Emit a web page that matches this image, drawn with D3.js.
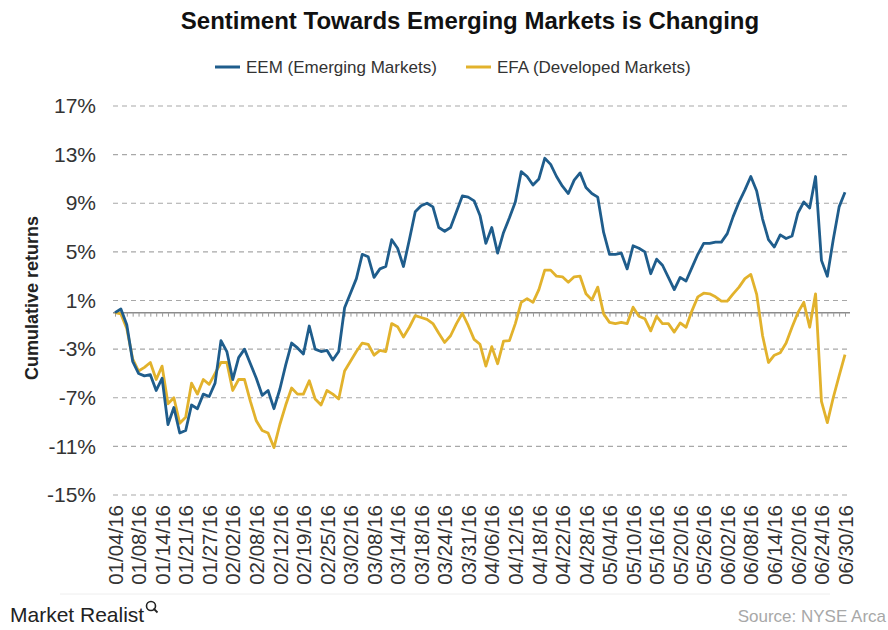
<!DOCTYPE html>
<html>
<head>
<meta charset="utf-8">
<script src="https://cdn.jsdelivr.net/npm/d3@7"></script>
<style>
  body { margin: 0; background: #fff; }
  svg { font-family: "Liberation Sans", Arial, sans-serif; }
</style>
</head>
<body>
<svg id="chart" width="888" height="630"></svg>
<script>
// trading days, 01/04/16 .. 06/30/16
var dates = [
  "01/04/16","01/05/16","01/06/16","01/07/16","01/08/16","01/11/16","01/12/16","01/13/16","01/14/16","01/15/16",
  "01/19/16","01/20/16","01/21/16","01/22/16","01/25/16","01/26/16","01/27/16","01/28/16","01/29/16",
  "02/01/16","02/02/16","02/03/16","02/04/16","02/05/16","02/08/16","02/09/16","02/10/16","02/11/16","02/12/16",
  "02/16/16","02/17/16","02/18/16","02/19/16","02/22/16","02/23/16","02/24/16","02/25/16","02/26/16","02/29/16",
  "03/01/16","03/02/16","03/03/16","03/04/16","03/07/16","03/08/16","03/09/16","03/10/16","03/11/16","03/14/16",
  "03/15/16","03/16/16","03/17/16","03/18/16","03/21/16","03/22/16","03/23/16","03/24/16","03/28/16","03/29/16",
  "03/30/16","03/31/16",
  "04/01/16","04/04/16","04/05/16","04/06/16","04/07/16","04/08/16","04/11/16","04/12/16","04/13/16","04/14/16",
  "04/15/16","04/18/16","04/19/16","04/20/16","04/21/16","04/22/16","04/25/16","04/26/16","04/27/16","04/28/16","04/29/16",
  "05/02/16","05/03/16","05/04/16","05/05/16","05/06/16","05/09/16","05/10/16","05/11/16","05/12/16","05/13/16",
  "05/16/16","05/17/16","05/18/16","05/19/16","05/20/16","05/23/16","05/24/16","05/25/16","05/26/16","05/27/16","05/31/16",
  "06/01/16","06/02/16","06/03/16","06/06/16","06/07/16","06/08/16","06/09/16","06/10/16","06/13/16","06/14/16",
  "06/15/16","06/16/16","06/17/16","06/20/16","06/21/16","06/22/16","06/23/16","06/24/16","06/27/16","06/28/16",
  "06/29/16","06/30/16"
];

// cumulative returns, %
var eem = [
  0.0, 0.3, -1.0, -4.0, -5.0, -5.2, -5.1, -6.4, -5.4, -9.2,
  -7.8, -9.9, -9.7, -7.6, -7.9, -6.7, -6.9, -5.8, -2.3, -3.2,
  -5.5, -3.7, -3.0, -4.2, -5.4, -6.8, -6.4, -7.9, -6.3, -4.3,
  -2.5, -2.9, -3.4, -1.1, -3.0, -3.2, -3.1, -3.9, -3.2, 0.4,
  1.6, 2.8, 4.8, 4.6, 2.9, 3.6, 3.8, 6.0, 5.3, 3.8,
  6.0, 8.3, 8.8, 9.0, 8.7, 7.0, 6.7, 7.0, 8.3, 9.6,
  9.5, 9.2, 8.0, 5.7, 7.0, 4.9, 6.6, 7.8, 9.1, 11.6,
  11.2, 10.5, 11.0, 12.7, 12.2, 11.2, 10.4, 9.8, 10.9, 11.5,
  10.3, 9.8, 9.5, 6.6, 4.8, 4.8, 4.9, 3.6, 5.5, 5.3,
  5.0, 3.2, 4.4, 3.9, 2.9, 1.9, 2.9, 2.6, 3.7, 4.8,
  5.7, 5.7, 5.8, 5.8, 6.5, 7.9, 9.1, 10.1, 11.2, 10.0,
  7.7, 6.0, 5.4, 6.4, 6.1, 6.3, 8.2, 9.1, 8.6, 11.2,
  4.3, 3.0, 6.0, 8.7, 9.9
];
var efa = [
  0.0, -0.1, -1.3, -3.8, -4.8, -4.5, -4.1, -5.5, -4.4, -7.5,
  -7.0, -9.1, -8.6, -5.8, -6.7, -5.5, -5.9, -5.0, -4.1, -4.1,
  -6.4, -5.5, -5.5, -7.3, -8.9, -9.7, -9.9, -11.1, -9.2, -7.6,
  -6.2, -6.7, -6.7, -5.6, -7.1, -7.6, -6.4, -6.7, -7.1, -4.8,
  -4.0, -3.2, -2.5, -2.6, -3.5, -3.1, -3.2, -0.9, -1.15, -2.0,
  -1.2, -0.25, -0.4, -0.55, -0.9, -1.7, -2.45, -1.9, -0.9, -0.05,
  -1.05, -2.2, -2.6, -4.4, -2.8, -4.2, -2.35, -2.3, -0.9, 0.85,
  1.15, 0.85, 1.9, 3.5, 3.5, 3.0, 2.95, 2.5, 2.95, 3.0,
  1.55, 1.05, 2.1, -0.1, -0.8, -0.9, -0.8, -0.9, 0.45, -0.3,
  -0.5, -1.5, -0.3, -0.9, -0.9, -1.6, -0.85, -1.2, 0.15, 1.3,
  1.6, 1.55, 1.3, 0.95, 0.95, 1.55, 2.1, 2.8, 3.15, 1.5,
  -1.9, -4.1, -3.5, -3.3, -2.5, -1.2, 0.0, 0.85, -1.2, 1.55,
  -7.3, -9.05, -7.0, -5.2, -3.45
];

var yTicks = [-15, -11, -7, -3, 1, 5, 9, 13, 17];
var seriesNames = ["EEM (Emerging Markets)", "EFA (Developed Markets)"];
var colors = ["#1f5d8c", "#e2b22c"];

var svg = d3.select("#chart");

var x = d3.scalePoint()
    .domain(dates)
    .range([115, 845]);

var y = d3.scaleLinear()
    .domain([-15, 17])
    .range([495, 106]);

// title
svg.append("text")
    .attr("x", 470).attr("y", 29)
    .attr("text-anchor", "middle")
    .attr("font-size", "24px")
    .attr("font-weight", "bold")
    .attr("fill", "#111")
    .text("Sentiment Towards Emerging Markets is Changing");

// legend
var leg = svg.append("g");
var legX = [215, 466];
seriesNames.forEach(function (name, i) {
  leg.append("line")
     .attr("x1", legX[i]).attr("x2", legX[i] + 25)
     .attr("y1", 67).attr("y2", 67)
     .attr("stroke", colors[i]).attr("stroke-width", 3);
  leg.append("text")
     .attr("x", legX[i] + 31).attr("y", 73)
     .attr("font-size", "17px")
     .attr("fill", "#333")
     .text(name);
});

// grid
svg.append("g")
   .selectAll("line")
   .data(yTicks)
   .enter().append("line")
   .attr("x1", 113).attr("x2", 850)
   .attr("y1", function (d) { return y(d); })
   .attr("y2", function (d) { return y(d); })
   .attr("stroke", "#a8a8a8")
   .attr("stroke-width", 1.2)
   .attr("stroke-dasharray", "5,4");

// y labels
var yAxis = d3.axisLeft(y)
    .tickValues(yTicks)
    .tickSize(0)
    .tickPadding(0)
    .tickFormat(function (d) { return d + "%"; });

svg.append("g")
   .attr("transform", "translate(96,0)")
   .call(yAxis)
   .call(function (g) { g.select(".domain").remove(); })
   .selectAll("text")
   .attr("font-size", "21px")
   .attr("fill", "#333")
   .attr("font-family", "Liberation Sans, Arial, sans-serif");

svg.append("text")
    .attr("transform", "translate(38,298) rotate(-90)")
    .attr("text-anchor", "middle")
    .attr("font-size", "18px")
    .attr("font-weight", "bold")
    .attr("fill", "#222")
    .text("Cumulative returns");

// zero line with tick marks at every day
var xAxis0 = d3.axisBottom(x)
    .tickSize(4)
    .tickFormat("");

svg.append("g")
   .attr("transform", "translate(0," + y(0) + ")")
   .call(xAxis0)
   .call(function (g) {
     g.select(".domain").attr("d", "M113,0H850").attr("stroke", "#8c8c8c").attr("stroke-width", 1.5);
     g.selectAll(".tick line").attr("stroke", "#9a9a9a");
   });

// date labels every 4th day
var xAxisLabels = d3.axisBottom(x)
    .tickValues(dates.filter(function (d, i) { return i % 4 === 0; }))
    .tickSize(0);

svg.append("g")
   .attr("transform", "translate(0,505)")
   .call(xAxisLabels)
   .call(function (g) { g.select(".domain").remove(); })
   .selectAll("text")
   .attr("font-size", "20.5px")
   .attr("fill", "#333")
   .attr("font-family", "Liberation Sans, Arial, sans-serif")
   .attr("text-anchor", "end")
   .attr("dy", "0.35em")
   .attr("dx", 0)
   .attr("y", 0)
   .attr("transform", "rotate(-90)");

// lines
var line = d3.line()
    .x(function (d, i) { return x(dates[i]); })
    .y(function (d) { return y(d); });

[efa, eem].forEach(function (s) {
  svg.append("path")
     .datum(s)
     .attr("fill", "none")
     .attr("stroke", s === eem ? colors[0] : colors[1])
     .attr("stroke-width", 2.8)
     .attr("stroke-linejoin", "round")
     .attr("d", line);
});

// footer
svg.append("line")
    .attr("x1", 60).attr("x2", 830)
    .attr("y1", 594).attr("y2", 594)
    .attr("stroke", "#eee").attr("stroke-width", 1);

svg.append("text")
    .attr("x", 10).attr("y", 622)
    .attr("font-size", "21px")
    .attr("font-family", "Liberation Sans Narrow, Arial Narrow, sans-serif")
    .attr("fill", "#222")
    .text("Market Realist");

var mag = svg.append("g").attr("transform", "translate(151,606)");
mag.append("circle").attr("r", 4.5).attr("fill", "none").attr("stroke", "#222").attr("stroke-width", 1.6);
mag.append("line").attr("x1", 2.5).attr("y1", 2.5).attr("x2", 6.5).attr("y2", 6.5)
   .attr("stroke", "#222").attr("stroke-width", 1.8);

svg.append("text")
    .attr("x", 886).attr("y", 622)
    .attr("text-anchor", "end")
    .attr("font-size", "17px")
    .attr("font-family", "Liberation Sans Narrow, Arial Narrow, sans-serif")
    .attr("fill", "#a8a8a8")
    .text("Source: NYSE Arca");
</script>
</body>
</html>
